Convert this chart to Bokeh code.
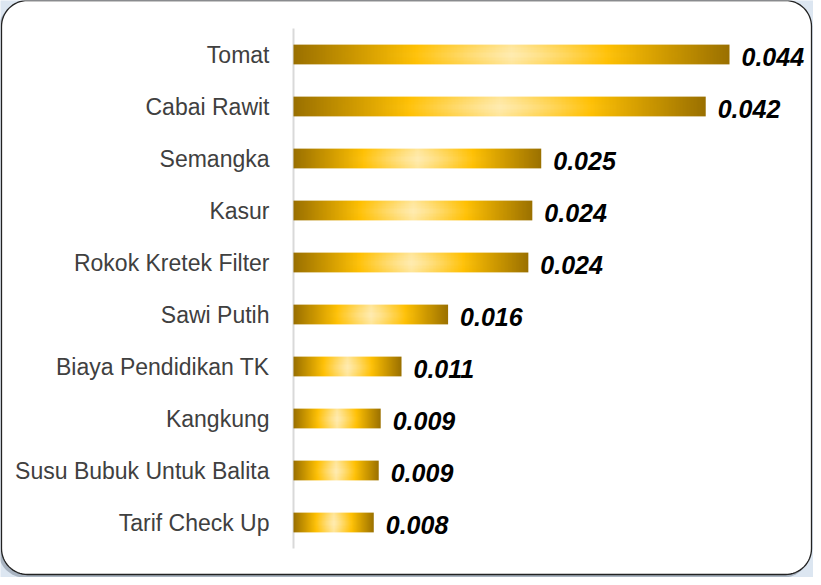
from bokeh.plotting import figure
from bokeh.models import Range1d, ColumnDataSource
from bokeh.core.properties import value
from bokeh.embed import file_html
from bokeh.resources import INLINE
import numpy as np
import math

# ---------------- data ----------------
categories = ["Tomat", "Cabai Rawit", "Semangka", "Kasur", "Rokok Kretek Filter",
              "Sawi Putih", "Biaya Pendidikan TK", "Kangkung",
              "Susu Bubuk Untuk Balita", "Tarif Check Up"]
values = [0.044, 0.0416, 0.0250, 0.0241, 0.0237, 0.0156, 0.0109, 0.0088, 0.0086, 0.0081]
value_labels = ["0.044", "0.042", "0.025", "0.024", "0.024", "0.016", "0.011",
                "0.009", "0.009", "0.008"]

# ---------------- layout (pixels) ----------------
W, H = 813, 577
AXIS_PX = 293          # canvas x of the category axis line
PX_PER_UNIT = 436 / 0.044
ROW0_PX = 54           # canvas y of the first row centre
ROW_PX = 52            # row spacing

x_start = -AXIS_PX / PX_PER_UNIT
x_end = (W - AXIS_PX) / PX_PER_UNIT
y_top = -ROW0_PX / ROW_PX
y_bottom = (H - ROW0_PX) / ROW_PX

p = figure(width=W, height=H, output_backend="svg", toolbar_location=None,
           x_range=Range1d(x_start, x_end), y_range=Range1d(y_bottom, y_top),
           min_border=0, min_border_left=0, min_border_right=0,
           min_border_top=0, min_border_bottom=0)
p.axis.visible = False
p.grid.visible = False
p.outline_line_color = None
p.background_fill_color = "#dce6f1"
p.border_fill_color = "#dce6f1"

# pixel ranges for the decorative panel
p.extra_x_ranges["px"] = Range1d(0, W)
p.extra_y_ranges["px"] = Range1d(H, 0)


def rounded(x0, y0, x1, y1, r, n=16):
    xs, ys = [], []
    corners = [(x1 - r, y0 + r, -90, 0), (x1 - r, y1 - r, 0, 90),
               (x0 + r, y1 - r, 90, 180), (x0 + r, y0 + r, 180, 270)]
    for cx, cy, a0, a1 in corners:
        for k in range(n + 1):
            a = math.radians(a0 + (a1 - a0) * k / n)
            xs.append(cx + r * math.cos(a))
            ys.append(cy + r * math.sin(a))
    return xs, ys

# shadow
sx, sy = rounded(-2, 3, W - 4, H - 0, 26)
p.patch(sx, sy, x_range_name="px", y_range_name="px", fill_color="#7f8b99",
        fill_alpha=0.55, line_color=None)
# panel
px_, py_ = rounded(1, 0, W - 2, H - 3, 26)
p.patch(px_, py_, x_range_name="px", y_range_name="px", fill_color="white",
        line_color="#222222", line_width=1.3)

# axis line
p.segment(x0=[0], x1=[0], y0=[-0.5], y1=[len(categories) - 0.5],
          line_color="#d9d9d9", line_width=2)

# gradient texture for the bars (horizontal gold gradient)
stops_t = np.array([0.0, 0.28, 0.5, 0.72, 1.0])
stops_c = np.array([(154, 112, 0), (255, 192, 0), (255, 230, 153),
                    (255, 192, 0), (154, 112, 0)], dtype=float)
NX, NY = 300, 12
t = (np.arange(NX) + 0.5) / NX
rgb = np.stack([np.interp(t, stops_t, stops_c[:, c]) for c in range(3)], axis=-1)
# soft vertical highlight in the middle of the bar
yy = (np.arange(NY) + 0.5) / NY
vert = 1 - np.abs(yy - 0.5) * 2  # 0 at edges, 1 at centre
hx = np.exp(-((t - 0.5) / 0.18) ** 2)
light = 0.25 * np.outer(vert, hx)
tex = rgb[None, :, :] + (255 - rgb[None, :, :]) * light[:, :, None]
tex = np.clip(tex, 0, 255).astype(np.uint8)
img = np.empty((NY, NX), dtype=np.uint32)
view = img.view(dtype=np.uint8).reshape((NY, NX, 4))
view[:, :, 0] = tex[:, :, 0]
view[:, :, 1] = tex[:, :, 1]
view[:, :, 2] = tex[:, :, 2]
view[:, :, 3] = 255

bh = 0.19
for i, v in enumerate(values):
    p.image_rgba(image=[img], x=0, y=i - bh, dw=v, dh=2 * bh)

ys = list(range(len(categories)))
src = ColumnDataSource(dict(y=ys, cat=categories, v=values, lab=value_labels,
                            zero=[0] * len(values)))
p.text(x="zero", y="y", text="cat", source=src, x_offset=-24,
       text_align="right", text_baseline="middle",
       text_font=value("Liberation Sans"), text_font_size="23px",
       text_color="#404040")
p.text(x="v", y="y", text="lab", source=src, x_offset=12, y_offset=2,
       text_align="left", text_baseline="middle",
       text_font=value("Liberation Sans"), text_font_size="25px",
       text_font_style="bold italic", text_color="black")

open("out.html", "w").write(file_html(p, INLINE))
